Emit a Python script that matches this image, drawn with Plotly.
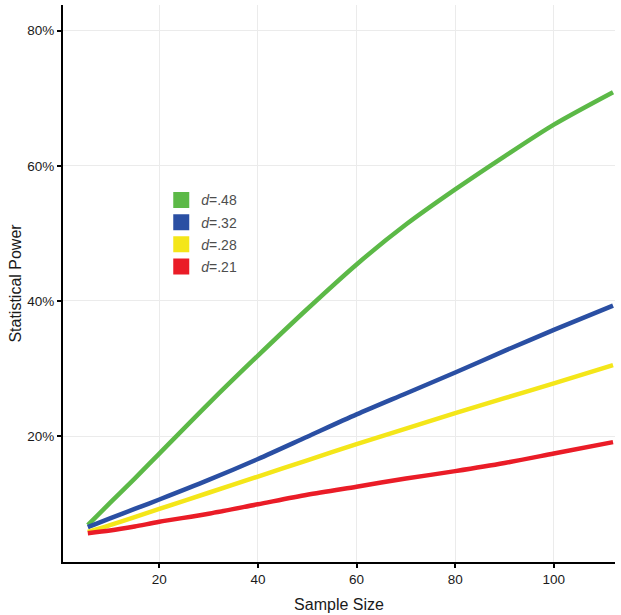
import plotly.graph_objects as go

sample_size = [5.5, 10, 15, 20, 30, 40, 50, 60, 70, 80, 90, 100, 112]

power_d48 = [6.8, 10.1, 13.7, 17.4, 24.8, 31.9, 38.8, 45.4, 51.3, 56.5, 61.4, 66.1, 70.9]
power_d32 = [6.5, 7.8, 9.2, 10.6, 13.5, 16.6, 19.9, 23.2, 26.3, 29.4, 32.6, 35.7, 39.3]
power_d28 = [5.8, 6.8, 8.0, 9.2, 11.6, 14.0, 16.4, 18.8, 21.1, 23.4, 25.6, 27.8, 30.5]
power_d21 = [5.6, 6.0, 6.6, 7.3, 8.5, 9.9, 11.3, 12.5, 13.7, 14.8, 16.0, 17.4, 19.1]

series_labels = ["<i>d</i>=.48", "<i>d</i>=.32", "<i>d</i>=.28", "<i>d</i>=.21"]
series_values = [power_d48, power_d32, power_d28, power_d21]
series_colors = ["#5cb947", "#2a4fa3", "#f4e619", "#ea1c27"]

x_ticks = [20, 40, 60, 80, 100]
y_ticks = [20, 40, 60, 80]

fig = go.Figure()

for lab, vals, col in zip(series_labels, series_values, series_colors):
    fig.add_trace(go.Scatter(
        x=sample_size, y=vals, mode="lines",
        line=dict(color=col, width=4.5, shape="spline", smoothing=0.8),
        showlegend=False, hoverinfo="skip",
    ))

for i, (lab, col) in enumerate(zip(series_labels, series_colors)):
    fig.add_trace(go.Scatter(
        x=[None], y=[None], mode="markers", name=lab,
        marker=dict(symbol="square", size=16, color=col),
        legendgroup="g%d" % i, showlegend=True,
    ))

axis_font = dict(family="Liberation Sans, Arial, sans-serif", size=13.5, color="#1a1a1a")

fig.update_layout(
    width=621, height=615,
    margin=dict(l=63, r=6, t=5, b=53),
    paper_bgcolor="white", plot_bgcolor="white",
    font=dict(family="Liberation Sans, Arial, sans-serif", color="#1a1a1a"),
    showlegend=True,
    legend=dict(
        x=0.178, y=0.678, xanchor="left", yanchor="top",
        font=dict(family="Liberation Sans, Arial, sans-serif", size=14, color="#4d4d4d"),
        bgcolor="rgba(0,0,0,0)", tracegroupgap=1, itemsizing="trace",
    ),
    xaxis=dict(
        range=[0.47, 112.4], tickvals=x_ticks, ticktext=[str(v) for v in x_ticks],
        showline=True, linecolor="black", linewidth=2,
        ticks="outside", ticklen=4, tickwidth=1.5, tickcolor="black",
        showgrid=True, gridcolor="#ebebeb", gridwidth=1,
        zeroline=False, tickfont=axis_font,
        title=dict(text="Sample Size", font=dict(size=16, color="#1a1a1a"), standoff=13),
    ),
    yaxis=dict(
        range=[1.35, 83.8], tickvals=y_ticks, ticktext=["%d%%" % v for v in y_ticks],
        showline=True, linecolor="black", linewidth=2,
        ticks="outside", ticklen=4, tickwidth=1.5, tickcolor="black",
        showgrid=True, gridcolor="#ebebeb", gridwidth=1,
        zeroline=False, tickfont=axis_font,
        title=dict(text="Statistical Power", font=dict(size=16, color="#1a1a1a"), standoff=2),
    ),
)

fig.write_html("out.html", config={"displayModeBar": False},
               post_script="document.body.style.margin='0';")
